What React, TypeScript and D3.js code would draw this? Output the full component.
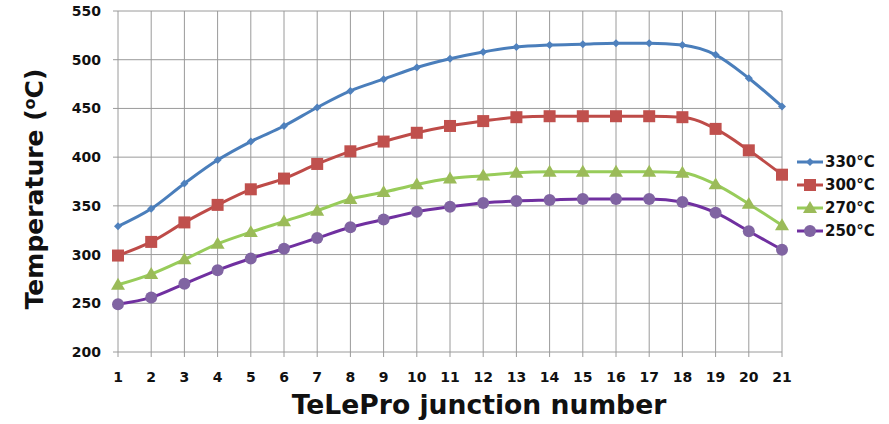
import React from "react";
import * as d3 from "d3";

const junctions = d3.range(1, 22);
const s330 = [329, 347, 373, 397, 416, 432, 451, 468, 480, 492, 501, 508, 513, 515, 516, 517, 517, 515, 505, 481, 452];
const s300 = [299, 313, 333, 351, 367, 378, 393, 406, 416, 425, 432, 437, 441, 442, 442, 442, 442, 441, 429, 407, 382];
const s270 = [269, 280, 295, 311, 323, 334, 345, 357, 364, 372, 378, 381, 384, 385, 385, 385, 385, 384, 372, 352, 330];
const s250 = [249, 256, 270, 284, 296, 306, 317, 328, 336, 344, 349, 353, 355, 356, 357, 357, 357, 354, 343, 324, 305];
const yTicks = [200, 250, 300, 350, 400, 450, 500, 550];
const seriesNames = ["330°C", "300°C", "270°C", "250°C"];

const W = 889, H = 424;
const x = d3.scaleLinear().domain([1, 21]).range([118, 782]);
const y = d3.scaleLinear().domain([200, 550]).range([352, 11]);

const series = [
  { name: seriesNames[0], values: s330, line: "#4A7EBB", fill: "#4F81BD", marker: "diamond", width: 3 },
  { name: seriesNames[1], values: s300, line: "#BE4B48", fill: "#C0504D", marker: "square", width: 3 },
  { name: seriesNames[2], values: s270, line: "#98CC5A", fill: "#9BBB59", marker: "triangle", width: 3 },
  { name: seriesNames[3], values: s250, line: "#7030A0", fill: "#8064A2", marker: "circle", width: 3 },
];

function Marker({ type, cx, cy, fill }: { type: string; cx: number; cy: number; fill: string }) {
  if (type === "diamond") {
    const r = 4;
    return <path d={`M${cx},${cy - r}L${cx + r},${cy}L${cx},${cy + r}L${cx - r},${cy}Z`} fill={fill} />;
  }
  if (type === "square") {
    const r = 6;
    return <rect x={cx - r} y={cy - r} width={2 * r} height={2 * r} fill={fill} />;
  }
  if (type === "triangle") {
    const r = 7;
    return <path d={`M${cx},${cy - r}L${cx + r},${cy + r * 0.7}L${cx - r},${cy + r * 0.7}Z`} fill={fill} />;
  }
  return <circle cx={cx} cy={cy} r={6} fill={fill} />;
}

export default function App() {
  const line = d3.line<number>().x((_, i) => x(junctions[i])).y((v) => y(v)).curve(d3.curveMonotoneX);
  const font = "'DejaVu Sans', Verdana, sans-serif";
  return (
    <svg width={W} height={H} style={{ position: "absolute", left: 0, top: 0, background: "#fff" }}>
      <rect width={W} height={H} fill="#fff" />
      {/* grid */}
      {yTicks.map((t) => (
        <line key={"h" + t} x1={x(1) - 5} x2={x(21)} y1={y(t)} y2={y(t)} stroke="#9a9a9a" strokeWidth={1} />
      ))}
      {junctions.map((j) => (
        <line key={"v" + j} x1={x(j)} x2={x(j)} y1={y(550)} y2={y(200) + 5} stroke="#9a9a9a" strokeWidth={1} />
      ))}
      {/* y labels */}
      {yTicks.map((t) => (
        <text key={"yl" + t} x={101} y={y(t)} dy="0.36em" textAnchor="end" fontFamily={font} fontWeight={700} fontSize={14} fill="#111">
          {t}
        </text>
      ))}
      {junctions.map((j) => (
        <text key={"xl" + j} x={x(j)} y={377} dy="0.36em" textAnchor="middle" fontFamily={font} fontWeight={700} fontSize={14} fill="#111">
          {j}
        </text>
      ))}
      {/* series */}
      {series.map((s) => (
        <g key={s.name}>
          <path d={line(s.values) || ""} fill="none" stroke={s.line} strokeWidth={s.width} />
          {s.values.map((v, i) => (
            <Marker key={i} type={s.marker} cx={x(junctions[i])} cy={y(v)} fill={s.fill} />
          ))}
        </g>
      ))}
      {/* legend */}
      {series.map((s, i) => {
        const ly = 162 + i * 23;
        return (
          <g key={"lg" + s.name}>
            <line x1={797} x2={823} y1={ly} y2={ly} stroke={s.line} strokeWidth={3} />
            <Marker type={s.marker} cx={810} cy={ly} fill={s.fill} />
            <text x={825} y={ly} dy="0.36em" fontFamily={font} fontWeight={700} fontSize={15} fill="#111">
              {s.name}
            </text>
          </g>
        );
      })}
      {/* axis titles */}
      <text x={479} y={414} textAnchor="middle" fontFamily={font} fontWeight={700} fontSize={26.6} fill="#111">
        TeLePro junction number
      </text>
      <text transform="translate(43,189) rotate(-90)" textAnchor="middle" fontFamily={font} fontWeight={700} fontSize={25} fill="#111">
        Temperature (<tspan dy={-8} fontSize={16}>o</tspan><tspan dy={8}>C)</tspan>
      </text>
    </svg>
  );
}
